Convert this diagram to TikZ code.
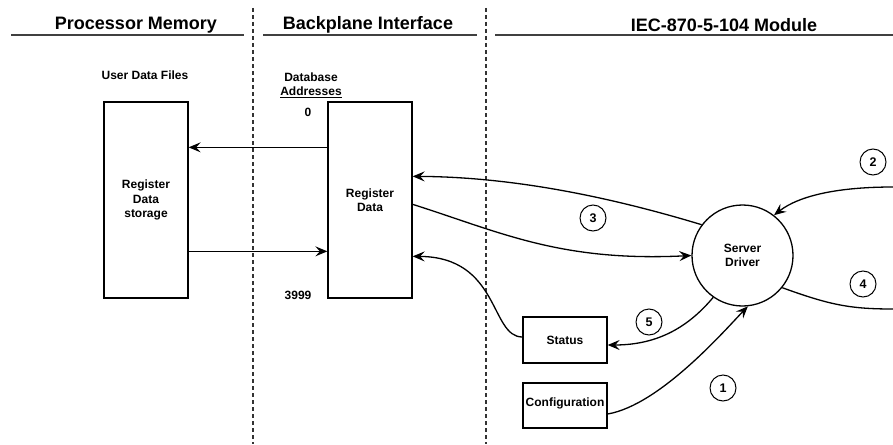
\documentclass[tikz,border=0pt]{standalone}
\usepackage{fontspec}
\setmainfont{Liberation Sans}
\usetikzlibrary{arrows.meta}
\tikzset{
  hdr/.style={font=\fontsize{18}{21}\selectfont\bfseries, inner sep=0pt},
  lbl/.style={font=\fontsize{12}{14.5}\selectfont\bfseries, inner sep=0pt, align=center},
  uline/.style={draw=black!75, line width=2pt},
  sep/.style={draw=black!80, line width=1.3pt, dash pattern=on 4pt off 3pt},
  box/.style={draw, line width=1.3pt, inner sep=0pt, align=center, font=\fontsize{12}{14.5}\selectfont\bfseries},
  num/.style={draw, circle, line width=1pt, minimum size=26pt, inner sep=0pt, font=\fontsize{12.5}{14}\selectfont\bfseries},
  conn/.style={line width=1.3pt},
  arr/.style={line width=1.3pt, -{Stealth[length=12pt,width=10pt,inset=4.5pt]}}
}
\begin{document}
\begin{tikzpicture}[x=1pt,y=-1pt]
\useasboundingbox (0,0) rectangle (893,444);
% headers
\node[hdr] (h1) at (136,25) {Processor Memory};
\node[hdr] (h2) at (368,25) {Backplane Interface};
\node[hdr] (h3) at (724,25) {IEC-870-5-104 Module};
\draw[uline] (11,35) -- (244,35);
\draw[uline] (263,35) -- (477,35);
\draw[uline] (495,35) -- (893,35);
\draw[sep] (253,8) -- (253,444);
\draw[sep] (486,8) -- (486,444);
% labels
\node[lbl] (udf) at (145,75) {User Data Files};
\node[lbl] (db) at (311,85) {Database\\\underline{Addresses}};
\node[lbl] (zero) at (308,112) {0};
\node[lbl] (end) at (298,295) {3999};
% boxes
\node[box, minimum width=84pt, minimum height=196pt] (lb) at (146,200) {Register\\Data\\storage};
\node[box, minimum width=84pt, minimum height=196pt] (rb) at (370,200) {Register\\Data};
\node[box, minimum width=84pt, minimum height=46pt] (st) at (565,340) {Status};
\node[box, minimum width=84pt, minimum height=45pt, text depth=6pt] (cf) at (565,405.5) {Configuration};
\node[draw, circle, line width=1.3pt, minimum size=101pt, inner sep=0pt, align=center, font=\fontsize{12}{14.5}\selectfont\bfseries] (srv) at (742.5,255.5) {Server\\Driver};
% numbered circles
\node[num] (n1) at (723,388) {1};
\node[num] (n2) at (873,162) {2};
\node[num] (n3) at (593,218) {3};
\node[num] (n4) at (863,284) {4};
\node[num] (n5) at (649,322) {5};
\coordinate (e2) at (893,187);
\coordinate (e4) at (893,309);
% connectors
\draw[arr] ([yshift=-46pt]rb.north west) -- ([yshift=-46pt]lb.north east);
\draw[arr] ([yshift=-150pt]lb.north east) -- ([yshift=-150pt]rb.north west);
\draw[arr] (srv.143) .. controls (620,200) and (520,177) .. ([yshift=-75pt]rb.north east);
\draw[arr] ([yshift=-103pt]rb.north east) .. controls (500,232) and (560,262) .. (srv.west);
\draw[arr] ([yshift=3pt]st.west) .. controls (490,337) and (500,257) .. ([yshift=-155pt]rb.north east);
\draw[arr] (srv.235) .. controls (690,325) and (660,345) .. ([yshift=-5pt]st.east);
\draw[arr] ([yshift=-8.5pt]cf.east) .. controls (660,405) and (725,330) .. (srv.276);
\draw[arr] (e2) .. controls (840,187) and (800,195) .. (srv.52);
\draw[conn] (srv.-39) .. controls (830,305) and (850,309) .. (e4);
\end{tikzpicture}
\end{document}
